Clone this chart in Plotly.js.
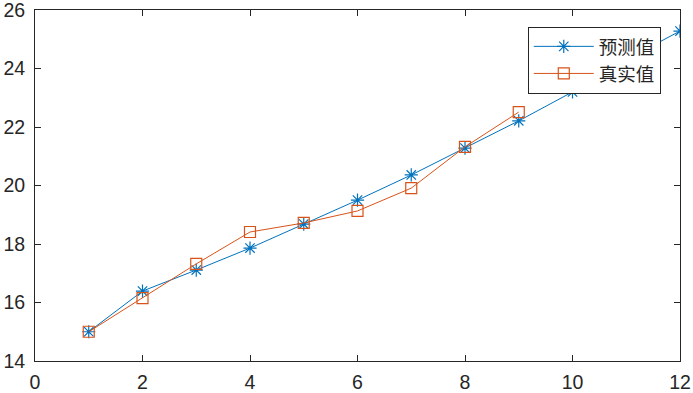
<!DOCTYPE html>
<html><head><meta charset="utf-8">
<script src="https://cdn.plot.ly/plotly-3.0.1.min.js"></script>
<style>body{margin:0;padding:0;background:#fff}#c{width:693px;height:393px}</style>
</head><body><div id="c"></div>
<script>
const xPred = [1,2,3,4,5,6,7,8,9,10,11,12];
const yPred = [15.0,16.39,17.11,17.86,18.68,19.50,20.36,21.28,22.21,23.20,24.3,25.28];
const xTrue = [1,2,3,4,5,6,7,8,9];
const yTrue = [15.0,16.15,17.32,18.41,18.72,19.13,19.91,21.32,22.51];
const names = ['预测值','真实值'];
const xTicks = [0,2,4,6,8,10,12];
const yTicks = [14,16,18,20,22,24,26];

const traces = [
  {x:xPred,y:yPred,name:names[0],type:'scatter',mode:'lines+markers',
   line:{color:'#0072BD',width:1},
   marker:{symbol:'asterisk-open',size:11,line:{color:'#0072BD',width:1.2},color:'#0072BD'}},
  {x:xTrue,y:yTrue,name:names[1],type:'scatter',mode:'lines+markers',
   line:{color:'#D95319',width:1},
   marker:{symbol:'square-open',size:11,line:{color:'#D95319',width:1.2},color:'#D95319'}}
];
const axBase = {showgrid:false,zeroline:false,showline:true,linecolor:'#262626',linewidth:1,
  mirror:'ticks',ticks:'inside',ticklen:6,tickcolor:'#262626',ticklabeloverflow:'allow',
  tickfont:{family:'Liberation Sans, Arial, sans-serif',size:19.5,color:'#262626'}};
const layout = {
  width:693,height:393,margin:{l:35,r:13,t:10,b:32},
  paper_bgcolor:'#fff',plot_bgcolor:'#fff',
  xaxis:Object.assign({},axBase,{range:[0,12],tickvals:xTicks,ticktext:xTicks.map(String),ticklabelstandoff:4}),
  yaxis:Object.assign({},axBase,{range:[14,26],tickvals:yTicks,ticktext:yTicks.map(String),ticklabelstandoff:5}),
  showlegend:true,
  legend:{x:0.764,y:0.952,xanchor:'left',yanchor:'top',bgcolor:'#fff',bordercolor:'#262626',borderwidth:1,
    font:{family:'Noto Sans CJK SC, sans-serif',size:18.5,color:'#262626'},tracegroupgap:0,itemwidth:60}
};
Plotly.newPlot('c',traces,layout,{displayModeBar:false,staticPlot:true});
</script></body></html>
